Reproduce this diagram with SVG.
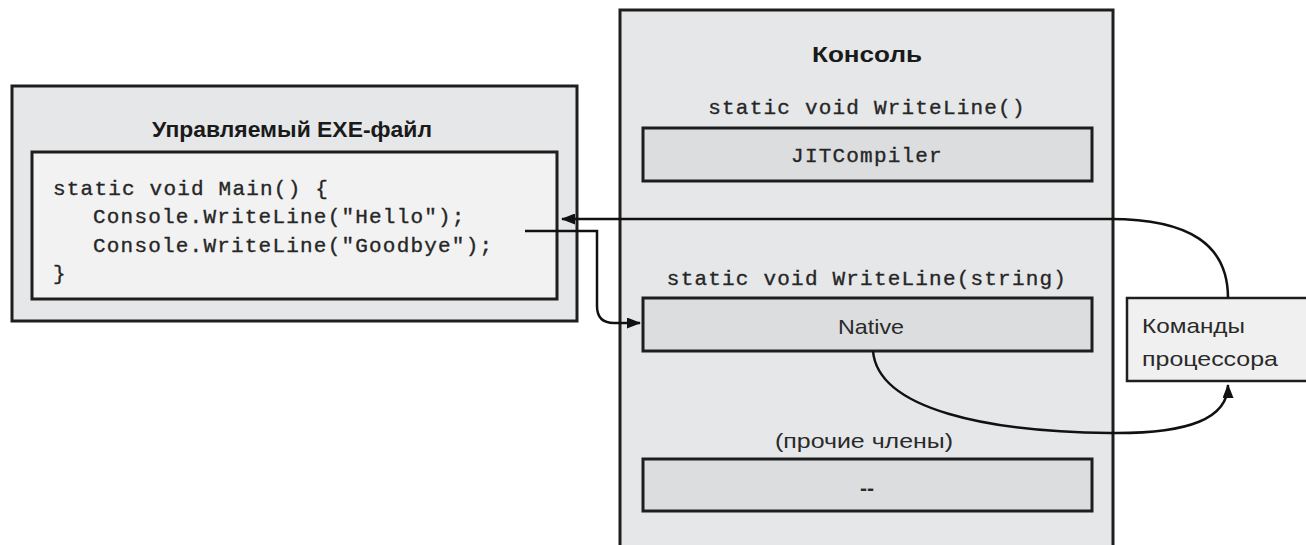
<svg xmlns="http://www.w3.org/2000/svg" width="1306" height="545" viewBox="0 0 1306 545">
  <style>
    .frame { fill: #e6e7e8; stroke: #1e1e1e; stroke-width: 3; }
    .code-box { fill: #f2f2f2; stroke: #1e1e1e; stroke-width: 3; }
    .slot { fill: #dcdddf; stroke: #1e1e1e; stroke-width: 3; }
    .cpu { fill: #f0f0f0; stroke: #1e1e1e; stroke-width: 2.5; }
    .title { font-family: "Liberation Sans Narrow", "Liberation Sans", Arial, sans-serif; font-weight: bold; font-size: 22px; fill: #1a1a1a; }
    .mono { font-family: "Liberation Mono", "DejaVu Sans Mono", monospace; font-size: 21px; letter-spacing: 1.2px; fill: #262626; stroke: #262626; stroke-width: 0.35; }
    .label { font-family: "Liberation Sans Narrow", "Liberation Sans", Arial, sans-serif; font-size: 21px; fill: #2a2a2a; }
    .wire { fill: none; stroke: #111; stroke-width: 2.5; }
  </style>
  <defs>
    <marker id="head" viewBox="0 0 14 11" refX="13" refY="5.5" markerWidth="14" markerHeight="11" markerUnits="userSpaceOnUse" orient="auto">
      <path d="M0,0 L14,5.5 L0,11 Z" fill="#111"/>
    </marker>
  </defs>

  <!-- Managed executable with its Main method -->
  <g id="exe">
    <rect class="frame" x="12" y="86" width="565" height="235"/>
    <text class="title" x="292" y="137" text-anchor="middle" textLength="280" lengthAdjust="spacingAndGlyphs">Управляемый EXE-файл</text>
    <rect class="code-box" x="32" y="152" width="525" height="147"/>
    <text class="mono" x="53" y="195">static void Main() {</text>
    <text class="mono" x="93" y="223">Console.WriteLine("Hello");</text>
    <text class="mono" x="93" y="252">Console.WriteLine("Goodbye");</text>
    <text class="mono" x="53" y="280">}</text>
  </g>

  <!-- Console type with its method slots -->
  <g id="console">
    <rect class="frame" x="620" y="10" width="493" height="545"/>
    <text class="title" x="867" y="62" text-anchor="middle" textLength="110" lengthAdjust="spacingAndGlyphs">Консоль</text>
    <text class="mono" x="867" y="114" text-anchor="middle">static void WriteLine()</text>
    <text class="mono" x="867" y="285" text-anchor="middle">static void WriteLine(string)</text>
    <text class="label" x="864" y="448" text-anchor="middle" textLength="178" lengthAdjust="spacingAndGlyphs">(прочие члены)</text>
  </g>

  <g id="jit-slot">
    <rect class="slot" x="643" y="128" width="449" height="53"/>
    <text class="mono" x="867" y="162" text-anchor="middle">JITCompiler</text>
  </g>

  <g id="native-slot">
    <rect class="slot" x="643" y="298" width="449" height="53"/>
    <text class="label" x="871" y="334" text-anchor="middle" font-size="22" textLength="66" lengthAdjust="spacingAndGlyphs">Native</text>
  </g>

  <g id="other-slot">
    <rect class="slot" x="643" y="459" width="449" height="52"/>
    <text class="label" x="867" y="495" text-anchor="middle" font-weight="bold">--</text>
  </g>

  <!-- CPU instructions -->
  <g id="cpu">
    <rect class="cpu" x="1127" y="298" width="185" height="83"/>
    <text class="label" x="1142" y="333" textLength="103" lengthAdjust="spacingAndGlyphs">Команды</text>
    <text class="label" x="1142" y="366" textLength="136" lengthAdjust="spacingAndGlyphs">процессора</text>
  </g>

  <g id="connectors">
    <!-- call into WriteLine(string) -->
    <path class="wire" d="M525,231 H597 V306 Q597,323 614,323 H640" marker-end="url(#head)"/>
    <!-- native code to CPU instructions -->
    <path class="wire" d="M873,351 C878,410 990,432 1110,433 C1190,434 1228,418 1228,385" marker-end="url(#head)"/>
    <!-- return to the caller -->
    <path class="wire" d="M1228,298 C1228,245 1190,219 1110,219 H562" marker-end="url(#head)"/>
  </g>
</svg>
